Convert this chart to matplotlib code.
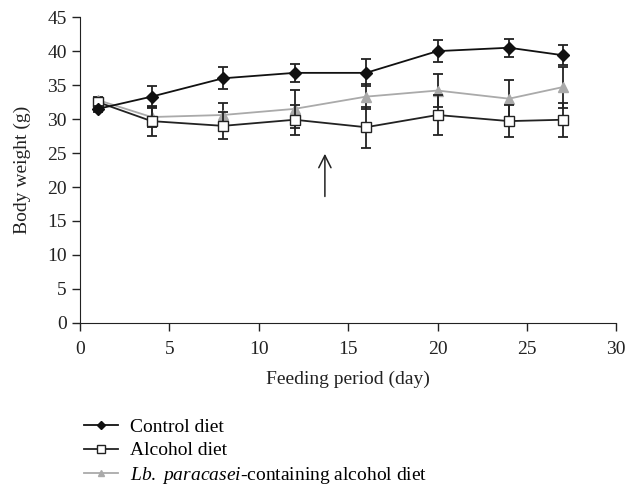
import matplotlib.pyplot as plt
from matplotlib.lines import Line2D

plt.rcParams['font.family'] = ['Liberation Serif', 'DejaVu Serif']
plt.rcParams['mathtext.fontset'] = 'custom'
plt.rcParams['mathtext.rm'] = 'Liberation Serif'
plt.rcParams['mathtext.it'] = 'Liberation Serif:italic'

# Datos
dias = [1, 4, 8, 12, 16, 20, 24, 27]
control = [31.5, 33.3, 36.0, 36.8, 36.8, 40.0, 40.5, 39.4]
control_err = [0.4, 1.6, 1.6, 1.3, 2.0, 1.6, 1.3, 1.5]
alcohol = [32.5, 29.7, 29.0, 29.9, 28.8, 30.6, 29.7, 29.9]
alcohol_err = [0.4, 2.2, 2.0, 2.2, 3.0, 3.0, 2.4, 2.5]
lb = [32.8, 30.3, 30.6, 31.5, 33.3, 34.2, 33.0, 34.7]
lb_err = [0.4, 1.5, 1.7, 2.8, 1.8, 2.4, 2.8, 3.0]

fig = plt.figure(figsize=(6.25, 4.9), dpi=100)
ax = fig.add_axes([0.128, 0.341, 0.858, 0.624])

ax.errorbar(dias, lb, yerr=lb_err, color='#aaaaaa', ecolor='#222222',
            elinewidth=1.3, capsize=3.5, capthick=1.3, marker='^',
            markersize=7, markeredgecolor='#aaaaaa', lw=1.3, zorder=2)
ax.errorbar(dias, alcohol, yerr=alcohol_err, color='#222222', ecolor='#222222',
            elinewidth=1.3, capsize=3.5, capthick=1.3, marker='s',
            markersize=7, markerfacecolor='white', lw=1.3, zorder=3)
ax.errorbar(dias, control, yerr=control_err, color='#111111', ecolor='#222222',
            elinewidth=1.3, capsize=3.5, capthick=1.3, marker='D',
            markersize=6, lw=1.3, zorder=4)

# Flecha
ax.annotate('', xy=(13.7, 25.3), xytext=(13.7, 18.2),
            arrowprops=dict(arrowstyle='->', color='#222222', lw=1.1,
                            mutation_scale=22))

ax.set_xlim(0, 30)
ax.set_ylim(0, 45)
ax.set_xticks(range(0, 31, 5))
ax.set_yticks(range(0, 46, 5))
ax.spines['top'].set_visible(False)
ax.spines['right'].set_visible(False)
ax.spines['left'].set_color('#222222')
ax.spines['bottom'].set_color('#222222')
ax.tick_params(direction='out', length=6, width=1, labelsize=14, colors='#222222')
ax.tick_params(axis='x', pad=7)
ax.set_xlabel('Feeding period (day)', fontsize=14, color='#222222', labelpad=9)
ax.set_ylabel('Body weight (g)', fontsize=14, color='#222222', labelpad=12)

handles = [
    Line2D([], [], color='#111111', marker='D', markersize=4, lw=1.3),
    Line2D([], [], color='#222222', marker='s', markersize=6,
           markerfacecolor='white', lw=1.3),
    Line2D([], [], color='#aaaaaa', marker='^', markersize=5, lw=1.3),
]
labels = ['Control diet', 'Alcohol diet',
          r'$\it{Lb.\ paracasei}$-containing alcohol diet']
fig.legend(handles, labels, loc='upper left', bbox_to_anchor=(0.122, 0.162),
           frameon=False, prop=dict(family='Liberation Serif', size=14),
           handlelength=1.75, labelspacing=0.3,
           handletextpad=0.6, borderaxespad=0)

plt.savefig('out.png', dpi=100)
